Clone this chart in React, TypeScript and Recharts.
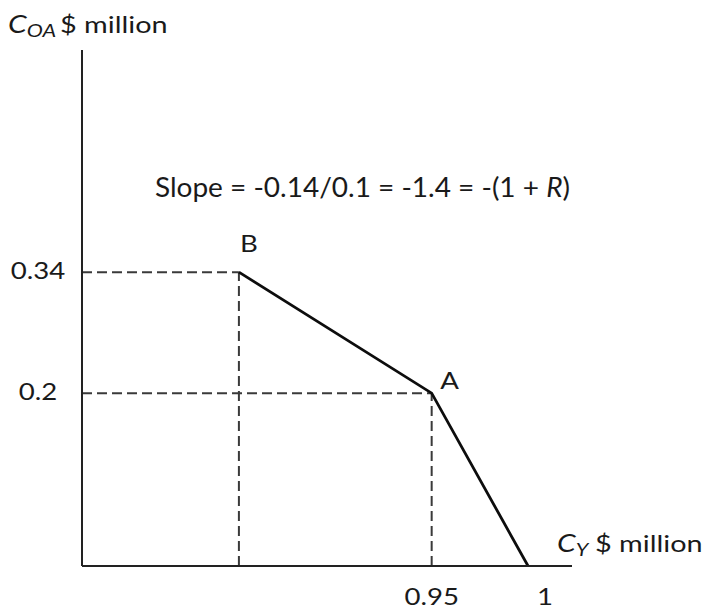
import { LineChart, Line, XAxis, YAxis, ReferenceLine } from "recharts";

// Consumption frontier: C_Y on the x axis, C_OA on the y axis ($ million)
const C_Y = [0.85, 0.95, 1];
const C_OA = [0.34, 0.2, 0];
const POINT_NAMES = ["B", "A", ""];

const X_TICKS = [0.95, 1];
const Y_TICKS = [0.2, 0.34];
const X_DOMAIN: [number, number] = [0.7686, 1.0228];
const Y_DOMAIN: [number, number] = [0, 0.597];

const SLOPE_TEXT = "Slope = -0.14/0.1 = -1.4 = -(1 + ";

const FONT = "Lato, 'Open Sans', sans-serif";
const INK = "#1a1a1a";
// glyphs are drawn a little wider than the font's natural width
const WIDEN = 1.2;

const data = C_Y.map((x, i) => ({ x, y: C_OA[i], name: POINT_NAMES[i] }));

// offsets of the point names from their markers
const NAME_OFFSET: Record<string, [number, number]> = {
  B: [10, -20],
  A: [18, -4],
};

function Wide({ x, y, anchor = "start", size = 23, children }: any) {
  return (
    <g transform={`translate(${x},${y}) scale(${WIDEN},1)`}>
      <text x={0} y={0} textAnchor={anchor} fontFamily={FONT} fontSize={size} fill={INK}>
        {children}
      </text>
    </g>
  );
}

function XTick({ x, y, payload }: any) {
  const shift = payload.value === 1 ? 17 : 0;
  return (
    <Wide x={x + shift} y={y + 31} anchor="middle">
      {payload.value}
    </Wide>
  );
}

function YTick({ y, payload }: any) {
  return (
    <Wide x={38} y={y + 7} anchor="middle">
      {payload.value}
    </Wide>
  );
}

function PointName({ x, y, index }: any) {
  const name = POINT_NAMES[index];
  if (!name) return null;
  const [dx, dy] = NAME_OFFSET[name];
  return (
    <Wide x={x + dx} y={y + dy} anchor="middle">
      {name}
    </Wide>
  );
}

const dash = { stroke: "#3a3a3a", strokeWidth: 2, strokeDasharray: "10 5" };

export default function App() {
  return (
    <div style={{ position: "absolute", left: 0, top: 0, width: 707, height: 614, background: "#fff" }}>
      <LineChart width={707} height={614} data={data} margin={{ top: 50, right: 135, bottom: 0, left: 0 }}>
        <XAxis
          dataKey="x"
          type="number"
          domain={X_DOMAIN}
          ticks={X_TICKS}
          allowDataOverflow
          height={48}
          tickLine={false}
          axisLine={{ stroke: "#222", strokeWidth: 2 }}
          tick={<XTick />}
        />
        <YAxis
          type="number"
          domain={Y_DOMAIN}
          ticks={Y_TICKS}
          allowDataOverflow
          width={82}
          tickLine={false}
          axisLine={{ stroke: "#222", strokeWidth: 2 }}
          tick={<YTick />}
        />
        {data.slice(0, 2).map((d) => (
          <ReferenceLine
            key={"h" + d.name}
            segment={[{ x: X_DOMAIN[0], y: d.y }, { x: d.x, y: d.y }]}
            {...dash}
          />
        ))}
        {data.slice(0, 2).map((d) => (
          <ReferenceLine
            key={"v" + d.name}
            segment={[{ x: d.x, y: 0 }, { x: d.x, y: d.y }]}
            {...dash}
          />
        ))}
        <Line
          dataKey="y"
          type="linear"
          stroke="#0d0d0d"
          strokeWidth={2.8}
          dot={false}
          isAnimationActive={false}
          label={<PointName />}
        />
      </LineChart>
      <svg width={707} height={614} style={{ position: "absolute", left: 0, top: 0, pointerEvents: "none" }}>
        <Wide x={8} y={33} size={25}>
          <tspan fontStyle="italic">C</tspan>
          <tspan fontStyle="italic" fontSize={18} dy={4}>OA</tspan>
        </Wide>
        <Wide x={60} y={33} size={24}>$ million</Wide>
        <Wide x={557} y={552} size={25}>
          <tspan fontStyle="italic">C</tspan>
          <tspan fontStyle="italic" fontSize={18} dy={4}>Y</tspan>
        </Wide>
        <Wide x={595} y={552} size={24}>$ million</Wide>
        <text
          x={155}
          y={197}
          fontFamily={FONT}
          fontSize={27}
          fill={INK}
          textLength={415}
          lengthAdjust="spacingAndGlyphs"
        >
          {SLOPE_TEXT}
          <tspan fontStyle="italic">R</tspan>)
        </text>
      </svg>
    </div>
  );
}
